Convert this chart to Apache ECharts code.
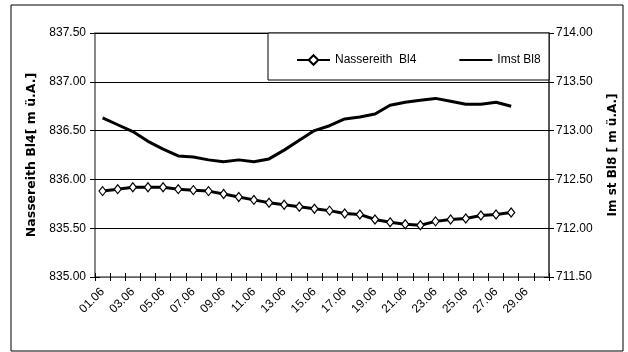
<!DOCTYPE html>
<html>
<head>
<meta charset="utf-8">
<script src="https://cdn.jsdelivr.net/npm/echarts@6/dist/echarts.min.js"></script>
<style>
html,body{margin:0;padding:0;background:#fff;}
#chart{width:628px;height:352px;}
</style>
</head>
<body>
<div id="chart"></div>
<script>
const categories = ['01.06','02.06','03.06','04.06','05.06','06.06','07.06','08.06','09.06','10.06',
  '11.06','12.06','13.06','14.06','15.06','16.06','17.06','18.06','19.06','20.06',
  '21.06','22.06','23.06','24.06','25.06','26.06','27.06','28.06','29.06','30.06'];
const nassereith = [835.88, 835.90, 835.92, 835.92, 835.92, 835.90, 835.89, 835.88, 835.85, 835.82,
  835.79, 835.76, 835.74, 835.72, 835.70, 835.68, 835.65, 835.64, 835.59, 835.56,
  835.54, 835.53, 835.57, 835.59, 835.60, 835.63, 835.64, 835.66];
const imst = [713.13, 713.06, 712.99, 712.89, 712.81, 712.74, 712.73, 712.70, 712.68, 712.70,
  712.68, 712.71, 712.80, 712.90, 713.00, 713.05, 713.12, 713.14, 713.17, 713.26,
  713.29, 713.31, 713.33, 713.30, 713.27, 713.27, 713.29, 713.25];
const leftTicks = {min: 835, max: 837.5, interval: 0.5};
const rightTicks = {min: 711.5, max: 714, interval: 0.5};
const seriesNames = ['Nassereith  Bl4', 'Imst Bl8'];
const leftName = 'Nassereith Bl4[ m ü.A.]';
const rightName = 'Im st Bl8 [ m ü.A.]';

const FONT = "'Liberation Sans', Arial, sans-serif";
const fmt = v => v.toFixed(2);

const chart = echarts.init(document.getElementById('chart'), null, {renderer: 'canvas'});
chart.setOption({
  backgroundColor: '#fff',
  animation: false,
  graphic: [
    {type: 'rect', shape: {x: 11, y: 5, width: 612, height: 346}, style: {fill: 'none', stroke: '#000', lineWidth: 1}, z: 0},
    {type: 'rect', shape: {x: 268, y: 33, width: 281, height: 47}, style: {fill: '#fff', stroke: '#000', lineWidth: 1}, z: 5}
  ],
  grid: {left: 95, top: 33, width: 454, height: 244, show: true, borderColor: '#808080', borderWidth: 1.5},
  legend: {
    data: [
      {name: seriesNames[0]},
      {name: seriesNames[1], itemStyle: {opacity: 0}}
    ],
    left: 291, top: 49, itemWidth: 33, itemHeight: 12, itemGap: 42, z: 10,
    textStyle: {fontFamily: FONT, fontSize: 12, color: '#000'}
  },
  xAxis: [
    {type: 'category', data: categories, position: 'bottom', boundaryGap: true,
     axisLine: {lineStyle: {color: '#808080', width: 1.5}},
     axisTick: {show: true, interval: 0, length: 4, lineStyle: {color: '#000'}},
     axisLabel: {interval: 1, rotate: 45, margin: 13, fontFamily: FONT, fontSize: 12, color: '#000'},
     splitLine: {show: false}},
    {type: 'category', data: categories, position: 'bottom', boundaryGap: true,
     axisLine: {show: false},
     axisTick: {show: true, inside: true, interval: 0, length: 4, lineStyle: {color: '#000'}},
     axisLabel: {show: false}, splitLine: {show: false}}
  ],
  yAxis: [
    {type: 'value', position: 'left', min: leftTicks.min, max: leftTicks.max, interval: leftTicks.interval,
     name: leftName, nameLocation: 'middle', nameRotate: 90, nameGap: 53,
     nameTextStyle: {fontFamily: "'DejaVu Sans', sans-serif", fontWeight: 'bold', fontSize: 12.5, color: '#000'},
     axisLine: {show: true, lineStyle: {color: '#808080', width: 1.5}},
     axisTick: {show: true, length: 5, lineStyle: {color: '#000'}},
     axisLabel: {formatter: fmt, margin: 9, fontFamily: FONT, fontSize: 12, color: '#000'},
     splitLine: {show: true, lineStyle: {color: '#000', width: 1}}},
    {type: 'value', position: 'right', min: rightTicks.min, max: rightTicks.max, interval: rightTicks.interval,
     name: rightName, nameLocation: 'middle', nameRotate: 90, nameGap: 58,
     nameTextStyle: {fontFamily: "'DejaVu Sans', sans-serif", fontWeight: 'bold', fontSize: 12, color: '#000'},
     axisLine: {show: true, lineStyle: {color: '#404040', width: 1.5}},
     axisTick: {show: true, length: 5, lineStyle: {color: '#000'}},
     axisLabel: {formatter: fmt, margin: 7, fontFamily: FONT, fontSize: 12, color: '#000'},
     splitLine: {show: false}},
    {type: 'value', position: 'left', min: leftTicks.min, max: leftTicks.max, interval: leftTicks.interval,
     axisLine: {show: false}, axisTick: {show: true, inside: true, length: 5, lineStyle: {color: '#000'}},
     axisLabel: {show: false}, splitLine: {show: false}},
    {type: 'value', position: 'right', min: rightTicks.min, max: rightTicks.max, interval: rightTicks.interval,
     axisLine: {show: false}, axisTick: {show: true, inside: true, length: 5, lineStyle: {color: '#000'}},
     axisLabel: {show: false}, splitLine: {show: false}}
  ],
  series: [
    {name: seriesNames[0], type: 'line', xAxisIndex: 0, yAxisIndex: 0, data: nassereith,
     symbol: 'diamond', symbolSize: [7, 9], showSymbol: true, z: 3,
     lineStyle: {color: '#000', width: 3},
     itemStyle: {color: '#fff', borderColor: '#000', borderWidth: 1.2}},
    {name: seriesNames[1], type: 'line', xAxisIndex: 0, yAxisIndex: 1, data: imst,
     symbol: 'none', z: 3,
     lineStyle: {color: '#000', width: 3},
     itemStyle: {color: '#000'}}
  ]
});
</script>
</body>
</html>
